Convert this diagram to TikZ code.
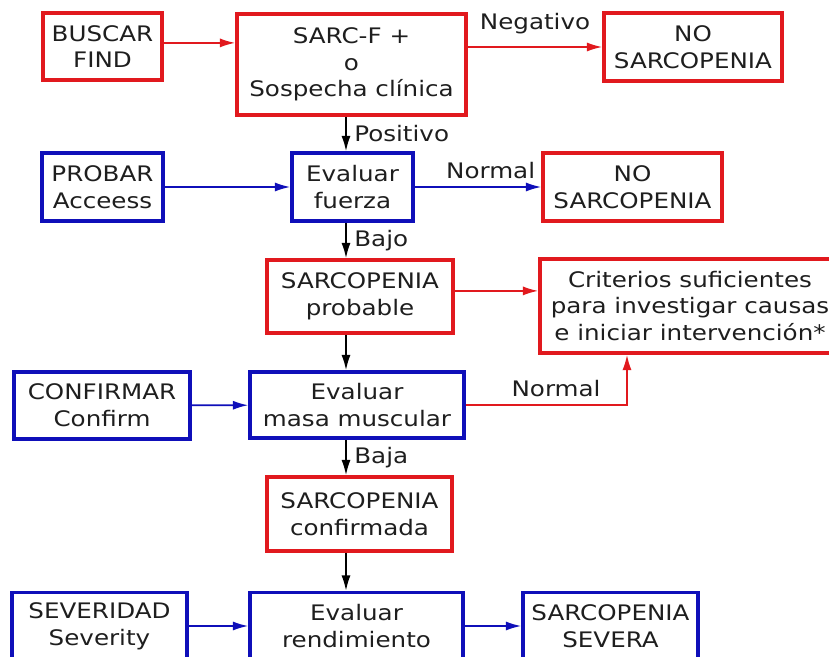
\documentclass[tikz,border=0pt]{standalone}
\usepackage{fontspec}
\setmainfont[FakeStretch=1.15]{DejaVu Sans}
\usepackage{xcolor}
\definecolor{BoxRed}{RGB}{225, 25, 30}
\definecolor{BoxBlue}{RGB}{15, 15, 185}
\definecolor{TextDark}{RGB}{30, 30, 30}
\usepackage{tikz}
\usetikzlibrary{arrows.meta, positioning, calc}

\begin{document}
\begin{tikzpicture}[
        x=0.025cm, y=-0.025cm,
        font=\fontsize{15.2pt}{19pt}\selectfont,
        box/.style={rectangle, line width=2.5pt, align=center, text=TextDark, inner sep=1pt},
        redbox/.style={box, draw=BoxRed},
        bluebox/.style={box, draw=BoxBlue},
        boxsize/.style 2 args={minimum width=#1*0.025cm, minimum height=#2*0.025cm},
        arrow/.style={-{Latex[length=11pt, width=6.5pt]}, line width=1.2pt},
        redarrow/.style={arrow, BoxRed},
        bluearrow/.style={arrow, BoxBlue},
        blackarrow/.style={arrow, black},
        lbl/.style={text=TextDark}
    ]
        \useasboundingbox (0,0) rectangle (829,657);
        \fill[white] (0,0) rectangle (829,657);
        \clip (0,0) rectangle (829,657);

        % Nodes
        \node[redbox, boxsize={119}{67}] (buscar) at (102.5,46.5) {BUSCAR\\FIND};
        \node[redbox, boxsize={229}{101}] (sarc) at (351.5,64.5) {SARC-F +\\o\\Sospecha clínica};
        \node[redbox, boxsize={178}{68}] (nosarcA) at (693,47) {NO\\SARCOPENIA};
        \node[bluebox, boxsize={121}{68}] (probar) at (102.5,187) {PROBAR\\Acceess};
        \node[bluebox, boxsize={121}{68}] (fuerza) at (352.5,187) {Evaluar\\fuerza};
        \node[redbox, boxsize={179}{68}] (nosarcB) at (632.5,187) {NO\\SARCOPENIA};
        \node[redbox, boxsize={186}{73}] (probable) at (360,296.5) {SARCOPENIA\\probable};
        \node[redbox, boxsize={300}{94}] (criterios) at (690,306) {Criterios suficientes\\para investigar causas\\e iniciar intervención*};
        \node[bluebox, boxsize={176}{67}] (confirmar) at (102,405.5) {CONFIRMAR\\Confirm};
        \node[bluebox, boxsize={214}{66}] (masa) at (357,405) {Evaluar\\masa muscular};
        \node[redbox, boxsize={185}{74}] (confirmada) at (359.5,514) {SARCOPENIA\\confirmada};
        \node[bluebox, boxsize={175}{67}] (severidad) at (99.5,626) {SEVERIDAD\\Severity};
        \node[bluebox, boxsize={213}{67}] (rendimiento) at (356.5,626) {Evaluar\\rendimiento};
        \node[bluebox, boxsize={175}{67}] (severa) at (610.5,626) {SARCOPENIA\\SEVERA};

        \coordinate (spine) at (346,0);

        % Arrows
        \draw[redarrow] ([yshift=0.09cm]buscar.east) -- ([yshift=0.09cm]buscar.east -| sarc.west);
        \draw[redarrow] (nosarcA.west -| sarc.east) -- node[lbl, above=5pt] (negativo) {Negativo} (nosarcA.west);
        \draw[blackarrow] (sarc.south -| spine) -- node[lbl, right=2pt] (positivo) {Positivo} (fuerza.north -| spine);
        \draw[bluearrow] (probar) -- (fuerza);
        \draw[bluearrow] (fuerza) -- node[lbl, above=2pt, pos=0.6] (normalA) {Normal} (nosarcB);
        \draw[blackarrow] (fuerza.south -| spine) -- node[lbl, right=2pt] (bajo) {Bajo} (probable.north -| spine);
        \draw[redarrow] ([yshift=0.14cm]probable.east) -- ([yshift=0.14cm]probable.east -| criterios.west);
        \draw[blackarrow] (probable.south -| spine) -- (masa.north -| spine);
        \draw[bluearrow] (confirmar) -- (masa);
        \draw[redarrow] (masa.east) -| node[lbl, above=2pt, pos=0.28] (normalB) {Normal} ([xshift=-1.575cm]criterios.south);
        \draw[blackarrow] (masa.south -| spine) -- node[lbl, right=2pt] (baja) {Baja} (confirmada.north -| spine);
        \draw[blackarrow] (confirmada.south -| spine) -- (rendimiento.north -| spine);
        \draw[bluearrow] (severidad) -- (rendimiento);
        \draw[bluearrow] (rendimiento) -- (severa);
    \end{tikzpicture}
\end{document}
